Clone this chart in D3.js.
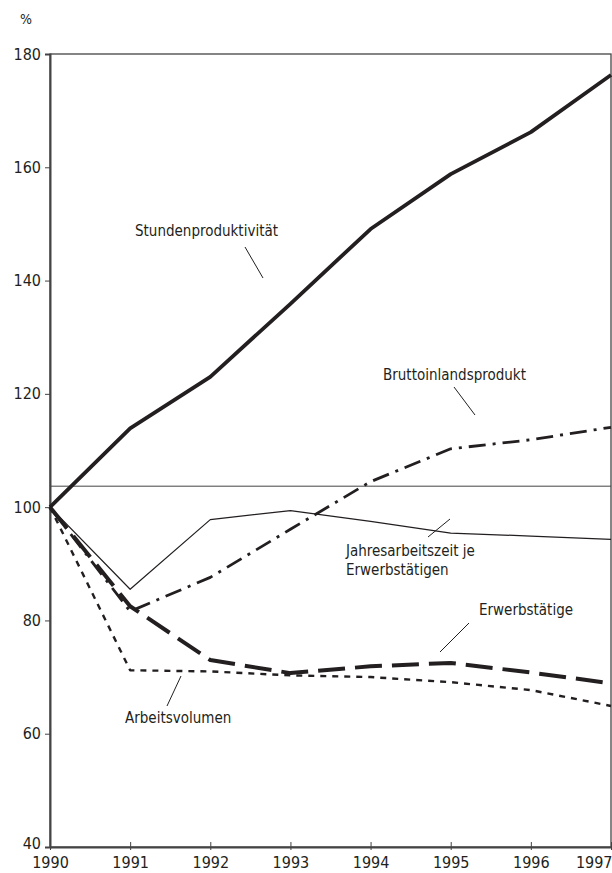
<!DOCTYPE html>
<html>
<head>
<meta charset="utf-8">
<script src="https://cdn.jsdelivr.net/npm/d3@7"></script>
<style>
  body { margin: 0; background: #fff; }
  svg text { font-family: "Liberation Sans Narrow", "DejaVu Sans Condensed", sans-serif; fill: #231f20; }
</style>
</head>
<body>
<div id="vizcont"></div>
<script>
// data (index, 1990 = 100)
var years = [1990, 1991, 1992, 1993, 1994, 1995, 1996, 1997];
var stundenproduktivitaet = [100, 113.9, 123.0, 135.9, 149.1, 158.8, 166.2, 176.3];
var bruttoinlandsprodukt = [100, 81.6, 87.6, 96.1, 104.5, 110.3, 111.9, 114.1];
var jahresarbeitszeit = [100, 85.5, 97.8, 99.4, 97.5, 95.4, 94.9, 94.3];
var erwerbstaetige = [100, 82.5, 73.0, 70.7, 71.9, 72.5, 70.8, 68.9];
var arbeitsvolumen = [100, 71.2, 71.0, 70.3, 70.0, 69.1, 67.7, 64.9];
var yTicks = [40, 60, 80, 100, 120, 140, 160, 180];
var refLine = 103.7;

function draw_chart() {
  var margin = {top: 54, right: 1, bottom: 26, left: 50};
  var width = 612 - margin.left - margin.right;
  var height = 873 - margin.top - margin.bottom;
  var ink = "#231f20";

  var svg = d3.select("#vizcont")
    .append("svg")
    .attr("width", 612)
    .attr("height", 873)
    .append("g")
      .attr("transform", "translate(" + margin.left + "," + margin.top + ")");

  var x = d3.scaleLinear().domain([1990, 1997]).range([0, width]);
  var y = d3.scaleLinear().domain([40, 180]).range([height, 0]);

  // frame
  svg.append("rect")
    .attr("x", 0).attr("y", 0)
    .attr("width", width).attr("height", height)
    .attr("fill", "none").attr("stroke", "#444").attr("stroke-width", 1.3);

  // thin horizontal reference line
  svg.append("line")
    .attr("x1", 0).attr("x2", width)
    .attr("y1", y(refLine)).attr("y2", y(refLine))
    .attr("stroke", "#444").attr("stroke-width", 1);

  // y axis
  var yAxis = svg.append("g")
    .call(d3.axisLeft(y).tickValues(yTicks).tickSize(5).tickPadding(4));
  yAxis.select(".domain").attr("stroke", "#444").attr("stroke-width", 2);
  yAxis.selectAll(".tick line").attr("stroke", "#444");
  yAxis.selectAll("text").style("font-size", "16px").attr("fill", ink);
  // lift the bottom label a little so it clears the year below it
  yAxis.selectAll(".tick text")
    .filter(function(d) { return d === 40; })
    .attr("dy", "0.1em");

  // x axis
  var xAxis = svg.append("g")
    .attr("transform", "translate(0," + height + ")")
    .call(d3.axisBottom(x).tickValues(years).tickFormat(d3.format("d")).tickSize(0).tickPadding(10));
  xAxis.select(".domain").attr("stroke", "#444").attr("stroke-width", 2);
  xAxis.selectAll(".tick").append("line")
    .attr("y1", -5).attr("y2", 3).attr("stroke", "#444");
  xAxis.selectAll("text").style("font-size", "16px").attr("fill", ink);
  // last year label would run past the page edge
  xAxis.selectAll(".tick text")
    .filter(function(d) { return d === 1997; })
    .attr("text-anchor", "end")
    .attr("x", 1);

  var line = d3.line()
    .x(function(d, i) { return x(years[i]); })
    .y(function(d) { return y(d); });

  var series = [
    {values: stundenproduktivitaet, w: 3.8, dash: null},
    {values: jahresarbeitszeit, w: 1.2, dash: null},
    {values: bruttoinlandsprodukt, w: 2.8, dash: "17,7,3,7"},
    {values: arbeitsvolumen, w: 2.4, dash: "6,6"},
    {values: erwerbstaetige, w: 4, dash: "27,10"}
  ];

  svg.selectAll("path.series")
    .data(series)
    .enter()
    .append("path")
      .attr("class", "series")
      .attr("d", function(d) { return line(d.values); })
      .attr("fill", "none")
      .attr("stroke", ink)
      .attr("stroke-width", function(d) { return d.w; })
      .attr("stroke-dasharray", function(d) { return d.dash; })
      .attr("stroke-linejoin", "round");

  // labels with leader lines (page coordinates)
  var labels = [
    {lines: ["Stundenproduktivität"], x: 135, y: 236, lead: [245, 247, 263, 278]},
    {lines: ["Bruttoinlandsprodukt"], x: 383, y: 380, lead: [454, 387, 475, 415]},
    {lines: ["Jahresarbeitszeit je", "Erwerbstätigen"], x: 346, y: 556, lead: [450, 519, 428, 537]},
    {lines: ["Erwerbstätige"], x: 479, y: 615, lead: [469, 623, 440, 652]},
    {lines: ["Arbeitsvolumen"], x: 125, y: 723, lead: [181, 676, 167, 706]}
  ];

  var top = d3.select("#vizcont svg");
  labels.forEach(function(l) {
    var t = top.append("text")
      .attr("x", l.x).attr("y", l.y)
      .style("font-size", "15px");
    l.lines.forEach(function(s, i) {
      t.append("tspan").attr("x", l.x).attr("dy", i === 0 ? 0 : 19).text(s);
    });
    top.append("line")
      .attr("x1", l.lead[0]).attr("y1", l.lead[1])
      .attr("x2", l.lead[2]).attr("y2", l.lead[3])
      .attr("stroke", ink).attr("stroke-width", 1);
  });

  top.append("text")
    .attr("x", 20).attr("y", 24)
    .style("font-size", "14px")
    .text("%");
}

draw_chart();
</script>
</body>
</html>
